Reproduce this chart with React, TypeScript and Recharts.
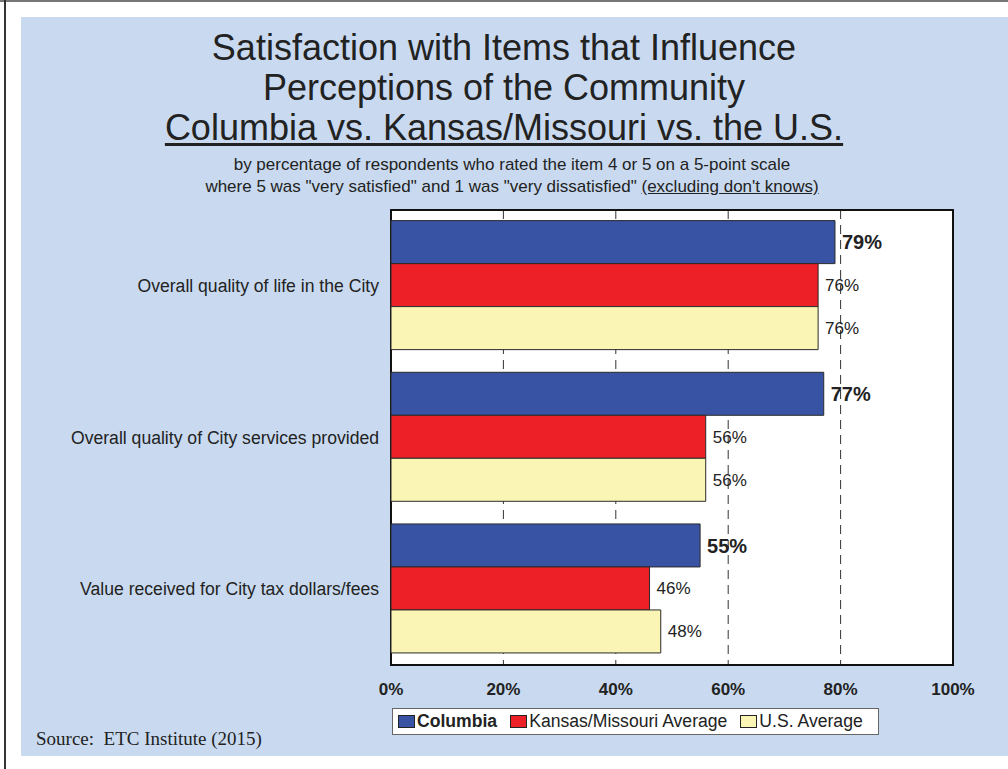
import { Bar, BarChart, CartesianGrid, LabelList, ReferenceArea, XAxis, YAxis } from "recharts";

const categories = [
  "Overall quality of life in the City",
  "Overall quality of City services provided",
  "Value received for City tax dollars/fees",
];
const columbia = [79, 77, 55];
const kansasMissouri = [76, 56, 46];
const usAverage = [76, 56, 48];
const xTicks = [0, 20, 40, 60, 80, 100];

const series = [
  { key: "columbia", name: "Columbia", fill: "#3953a4", bold: true },
  { key: "ksmo", name: "Kansas/Missouri Average", fill: "#ed2027", bold: false },
  { key: "us", name: "U.S. Average", fill: "#faf5b4", bold: false },
];

const data = categories.map((name, i) => ({
  name,
  columbia: columbia[i],
  ksmo: kansasMissouri[i],
  us: usAverage[i],
}));

const sans = "'Liberation Sans', Arial, Helvetica, sans-serif";
const ink = "#222";

export default function App() {
  return (
    <div style={{ position: "absolute", left: 0, top: 0, width: 1008, height: 769, background: "#fff", fontFamily: sans, color: ink, overflow: "hidden" }}>
      <div style={{ position: "absolute", left: 0, top: 0, width: 1008, height: 2, background: "#777" }} />
      <div style={{ position: "absolute", left: 4, top: 0, width: 2, height: 769, background: "#333" }} />
      <div style={{ position: "absolute", left: 21, top: 17, width: 987, height: 739, background: "#c9daf0" }} />

      <div style={{ position: "absolute", left: 0, top: 28, width: 1008, textAlign: "center", fontSize: 36, lineHeight: "40px" }}>
        <div>Satisfaction with Items that Influence</div>
        <div>Perceptions of the Community</div>
        <div><span style={{ textDecoration: "underline", textUnderlineOffset: 3 }}>Columbia vs. Kansas/Missouri vs. the U.S.</span></div>
      </div>
      <div style={{ position: "absolute", left: 8, top: 154, width: 1008, textAlign: "center", fontSize: 17, lineHeight: "22px" }}>
        <div>by percentage of respondents who rated the item 4 or 5 on a 5-point scale</div>
        <div>
          where 5 was "very satisfied" and 1 was "very dissatisfied" <span style={{ textDecoration: "underline" }}>(excluding don't knows)</span>
        </div>
      </div>

      <div style={{ position: "absolute", left: 0, top: 0 }}>
        <BarChart
          width={1008}
          height={769}
          data={data}
          layout="vertical"
          margin={{ top: 210, right: 55, bottom: 74, left: 21 }}
          barGap={0}
          barCategoryGap="7%"
        >
          <CartesianGrid horizontal={false} strokeDasharray="9 6" stroke="#333" fill="#fff" />
          <XAxis
            type="number"
            domain={[0, 100]}
            ticks={xTicks}
            tickFormatter={(v) => `${v}%`}
            axisLine={false}
            tickLine={false}
            tickSize={0}
            tickMargin={18}
            tick={{ fill: ink, fontSize: 17, fontWeight: 700, fontFamily: sans }}
          />
          <YAxis
            type="category"
            dataKey="name"
            width={370}
            axisLine={false}
            tickLine={false}
            tickSize={0}
            tickMargin={12}
            tick={{ fill: ink, fontSize: 17.6, fontFamily: sans }}
          />
          {series.map((s) => (
            <Bar key={s.key} dataKey={s.key} name={s.name} fill={s.fill} stroke="#2a2a2a" strokeWidth={1} isAnimationActive={false}>
              <LabelList
                dataKey={s.key}
                position="right"
                offset={7}
                formatter={(v: any) => `${v}%`}
                fill={ink}
                fontSize={s.bold ? 20 : 17}
                fontWeight={s.bold ? 700 : 400}
                fontFamily={sans}
              />
            </Bar>
          ))}
          <ReferenceArea x1={0} x2={100} fill="none" fillOpacity={0} stroke="#111" strokeWidth={2} ifOverflow="visible" />
        </BarChart>
      </div>

      <div style={{ position: "absolute", left: 392, top: 708, width: 487, height: 27, boxSizing: "border-box", background: "#fff", border: "1px solid #666", display: "flex", alignItems: "center", paddingLeft: 5, fontSize: 17.6 }}>
        {series.map((s, i) => (
          <span key={s.key} style={{ display: "flex", alignItems: "center", marginRight: i < series.length - 1 ? 13 : 0 }}>
            <span style={{ display: "inline-block", width: 15, height: 11, background: s.fill, border: "1px solid #222", marginRight: 2 }} />
            <span style={{ fontWeight: s.bold ? 700 : 400 }}>{s.name}</span>
          </span>
        ))}
      </div>

      <div style={{ position: "absolute", left: 36, top: 728, fontFamily: "'Liberation Serif', 'Times New Roman', serif", fontSize: 19, whiteSpace: "pre" }}>
        Source:  ETC Institute (2015)
      </div>
    </div>
  );
}
